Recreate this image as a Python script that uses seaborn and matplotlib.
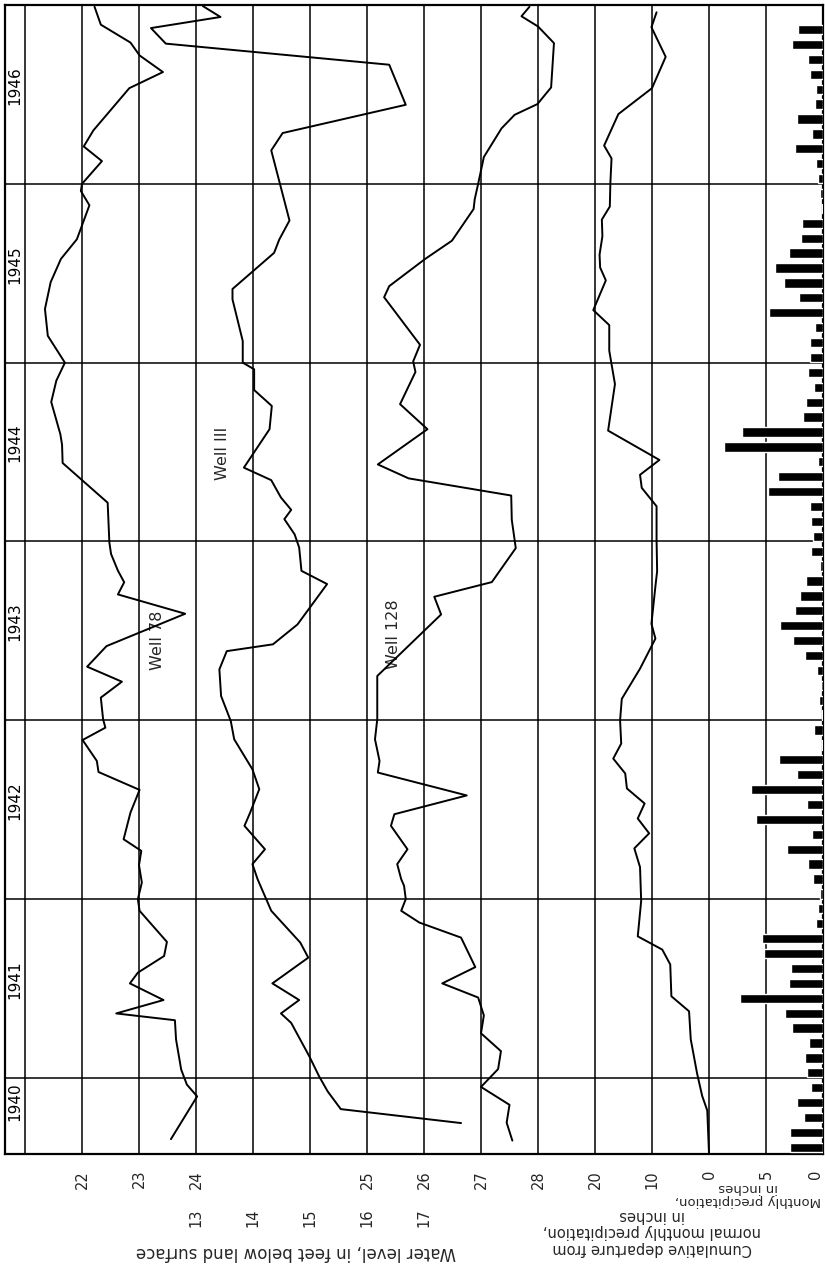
import matplotlib
matplotlib.use("Agg")
import matplotlib.pyplot as plt
import numpy as np
import pandas as pd
import seaborn as sns

sns.set_theme(style="white")
plt.rcParams["font.family"] = ["DejaVu Sans"]

# ---- data (time in decimal years) ----
w78_year = [1940.658, 1940.897, 1940.963, 1941.047, 1941.215, 1941.323, 1941.361, 1941.436,
            1941.529, 1941.589, 1941.682, 1941.761, 1941.935, 1942.000, 1942.093, 1942.190,
            1942.270, 1942.335, 1942.484, 1942.611, 1942.711, 1942.773, 1942.890, 1942.959,
            1943.006, 1943.127, 1943.216, 1943.300, 1943.415, 1943.596, 1943.704, 1943.772,
            1943.837, 1943.930, 1943.994, 1944.217, 1944.439, 1944.541, 1944.600, 1944.780,
            1944.900, 1945.000, 1945.150, 1945.300, 1945.450, 1945.580, 1945.690, 1945.880,
            1945.960, 1946.000, 1946.127, 1946.209, 1946.299, 1946.535, 1946.625, 1946.718,
            1946.790, 1946.890, 1946.990]
w78_depth = [23.56, 24.02, 23.84, 23.74, 23.65, 23.63, 22.60, 23.43,
             22.84, 22.98, 23.44, 23.49, 23.01, 22.98, 23.05, 23.00,
             23.04, 22.73, 22.85, 23.01, 22.29, 22.26, 22.01, 22.41,
             22.37, 22.33, 22.70, 22.09, 22.43, 23.81, 22.63, 22.74,
             22.63, 22.51, 22.48, 22.45, 21.66, 21.65, 21.62, 21.46,
             21.55, 21.70, 21.40, 21.35, 21.45, 21.63, 21.91, 22.13,
             21.98, 22.00, 22.35, 22.03, 22.20, 22.83, 23.42, 23.01,
             22.85, 22.33, 22.22]

w111_year = [1940.748, 1940.826, 1940.925, 1941.009, 1941.120, 1941.308, 1941.361, 1941.436,
             1941.529, 1941.673, 1941.757, 1941.935, 1942.112, 1942.196, 1942.279, 1942.410,
             1942.484, 1942.615, 1942.726, 1942.894, 1942.996, 1943.136, 1943.285, 1943.387,
             1943.425, 1943.536, 1943.762, 1943.836, 1943.966, 1944.040, 1944.125, 1944.177,
             1944.246, 1944.343, 1944.413, 1944.628, 1944.758, 1944.847, 1944.963, 1945.000,
             1945.121, 1945.354, 1945.412, 1945.614, 1945.688, 1945.795, 1946.187, 1946.284,
             1946.442, 1946.666, 1946.784, 1946.871, 1946.933, 1946.994]
w111_depth = [17.65, 15.54, 15.31, 15.16, 14.99, 14.67, 14.49, 14.81,
              14.34, 14.97, 14.83, 14.32, 14.08, 13.99, 14.21, 13.85,
              13.95, 14.11, 13.99, 13.67, 13.61, 13.44, 13.41, 13.54,
              14.35, 14.78, 15.30, 14.85, 14.81, 14.73, 14.55, 14.67,
              14.49, 14.32, 13.84, 14.29, 14.33, 14.02, 14.02, 13.82,
              13.82, 13.64, 13.64, 14.37, 14.46, 14.64, 14.32, 14.52,
              16.68, 16.39, 12.47, 12.21, 13.43, 13.12]

w128_year = [1940.650, 1940.750, 1940.850, 1940.950, 1941.050, 1941.150, 1941.250, 1941.350,
             1941.450, 1941.529, 1941.620, 1941.785, 1941.869, 1941.935, 1942.000, 1942.075,
             1942.112, 1942.196, 1942.279, 1942.410, 1942.475, 1942.580, 1942.708, 1942.773,
             1942.894, 1943.006, 1943.248, 1943.592, 1943.691, 1943.773, 1943.963, 1944.121,
             1944.257, 1944.353, 1944.431, 1944.628, 1944.768, 1944.948, 1945.007, 1945.100,
             1945.366, 1945.428, 1945.580, 1945.682, 1945.859, 1945.914, 1946.000, 1946.150,
             1946.310, 1946.386, 1946.446, 1946.539, 1946.787, 1946.880, 1946.937, 1946.990]
w128_depth = [27.55, 27.45, 27.50, 27.00, 27.30, 27.35, 27.00, 27.05,
              26.95, 26.32, 26.90, 26.65, 25.92, 25.60, 25.68, 25.65,
              25.60, 25.53, 25.71, 25.42, 25.48, 26.75, 25.19, 25.22,
              25.14, 25.18, 25.18, 26.30, 26.18, 27.19, 27.61, 27.54,
              27.53, 25.73, 25.19, 26.06, 25.58, 25.85, 25.81, 25.93,
              25.30, 25.39, 26.02, 26.49, 26.87, 26.89, 26.95, 27.05,
              27.36, 27.59, 27.99, 28.23, 28.28, 28.00, 27.71, 27.85]

cum_year = [1940.577, 1940.818, 1940.900, 1941.027, 1941.216, 1941.373, 1941.457, 1941.635,
            1941.718, 1941.792, 1941.990, 1942.179, 1942.284, 1942.368, 1942.451, 1942.535,
            1942.619, 1942.703, 1942.786, 1942.870, 1943.000, 1943.120, 1943.289, 1943.457,
            1943.540, 1943.750, 1943.834, 1944.011, 1944.197, 1944.300, 1944.373, 1944.456,
            1944.620, 1944.880, 1945.067, 1945.210, 1945.294, 1945.460, 1945.532, 1945.604,
            1945.707, 1945.800, 1945.873, 1946.007, 1946.142, 1946.214, 1946.390, 1946.535,
            1946.710, 1946.876, 1946.959]
cum_departure = [0.0, 0.3, 1.2, 2.1, 3.2, 3.5, 6.6, 6.8,
                 8.2, 12.5, 11.9, 12.1, 13.1, 10.5, 12.5, 11.3,
                 14.4, 14.7, 16.8, 15.4, 15.6, 15.3, 12.1, 9.4,
                 10.1, 9.4, 9.1, 9.2, 9.2, 11.8, 12.1, 8.7,
                 17.7, 16.5, 17.5, 17.5, 20.3, 18.1, 19.1, 19.2,
                 18.7, 18.8, 17.4, 17.3, 17.1, 18.4, 15.9, 10.0,
                 7.6, 10.1, 9.2]

# monthly precipitation, Aug 1940 - Nov 1946, inches
precip_months = pd.date_range("1940-08", "1946-11", freq="MS")
precip_in = [2.86, 2.92, 1.70, 2.32, 1.04,
             1.43, 1.55, 1.19, 2.74, 3.33, 7.30, 2.98, 2.80, 5.15, 5.35, 0.65, 0.42,
             0.30, 0.89, 1.34, 3.18, 0.95, 5.86, 1.40, 6.30, 2.32, 3.87, 0.10, 0.83,
             0.10, 0.36, 0.15, 0.54, 1.55, 2.62, 3.81, 2.44, 2.02, 1.49, 0.30, 1.04,
             0.89, 1.04, 1.13, 4.85, 3.96, 0.45, 8.69, 7.14, 1.79, 1.49, 0.83, 1.34,
             1.13, 1.13, 0.74, 4.76, 2.14, 3.39, 4.23, 2.98, 1.93, 1.85, 0.10, 0.30,
             0.45, 0.65, 2.44, 0.98, 2.32, 0.71, 0.65, 1.13, 1.34, 2.74, 2.23]

years = [1941, 1942, 1943, 1944, 1945, 1946]
year_labels = ["1940", "1941", "1942", "1943", "1944", "1945", "1946"]

# ---- layout: one grid column per unit, value of each scale at column 0 and per column ----
t_lo, t_hi = 1940.575, 1947.0
col_lo, col_hi = -0.351, 14.0
scales = {
    "w78": (21.0, 1.0),     # 22 ft on first grid line
    "w111": (10.0, 1.0),
    "w128": (19.0, 1.0),
    "cum": (120.0, -10.0),
    "precip": (70.0, -5.0),
}

fig = plt.figure(figsize=(8.25, 12.69), dpi=100)
ax = fig.add_axes([5 / 825, 115 / 1269, 818 / 825, 1149 / 1269])
ax.set_xlim(col_lo, col_hi)
ax.set_ylim(t_lo, t_hi)
ax.set_xticks([])
ax.set_yticks([])
for s in ax.spines.values():
    s.set_color("black")
    s.set_linewidth(1.6)
for k in range(14):
    ax.axvline(k, color="black", lw=1.1)
for yr in years:
    ax.axhline(yr, color="black", lw=1.1)

for i, lab in enumerate(year_labels):
    yr = 1940 + i
    ypos = yr + 0.55 if yr > 1940 else (t_lo + 1941) / 2 + 0.08
    ax.text(col_lo / 2, ypos, lab, rotation=90, ha="center", va="center",
            fontsize=11, color="black")


def twin(key, pad):
    base, per = scales[key]
    tw = ax.twiny()
    tw.set_xlim(base + per * col_lo, base + per * col_hi)
    tw.set_ylim(t_lo, t_hi)
    tw.xaxis.set_ticks_position("bottom")
    for s in tw.spines.values():
        s.set_visible(False)
    tw.tick_params(axis="x", length=0, labelsize=10.5, labelrotation=90, pad=pad)
    tw.set_xticks([])
    return tw


line_kw = dict(sort=False, estimator=None, color="black", linewidth=1.4, legend=False)

tw78 = twin("w78", 11.5)
sns.lineplot(x=w78_depth, y=w78_year, ax=tw78, **line_kw)
tw78.set_xticks([22, 23, 24], ["22", "23", "24"])

tw111 = twin("w111", 39)
sns.lineplot(x=w111_depth, y=w111_year, ax=tw111, **line_kw)
tw111.set_xticks([13, 14, 15, 16, 17], ["13", "14", "15", "16", "17"])

tw128 = twin("w128", 11.5)
sns.lineplot(x=w128_depth, y=w128_year, ax=tw128, **line_kw)
tw128.set_xticks([25, 26, 27, 28], ["25", "26", "27", "28"])

twc = twin("cum", 11.5)
sns.lineplot(x=cum_departure, y=cum_year, ax=twc, **line_kw)
twc.set_xticks([20, 10, 0], ["20", "10", "0"])

twp = twin("precip", 11.5)
precip_t = precip_months.year + (precip_months.month - 0.65) / 12
twp.barh(precip_t, precip_in, height=0.052, left=0, color="black")
twp.set_xticks([5, 0], ["5", "0"])
twp.get_xticklabels()[-1].set_horizontalalignment("right")

for tw in (tw78, tw111, tw128, twc, twp):
    tw.set_xlabel("")
    tw.set_ylabel("")
    tw.set_yticks([])

ax.text(2.33, 1943.45, "Well 78", rotation=90, ha="center", va="center", fontsize=11.5)
ax.text(3.46, 1944.49, "Well III", rotation=90, ha="center", va="center", fontsize=11.5)
ax.text(6.46, 1943.48, "Well 128", rotation=90, ha="center", va="center", fontsize=11.5)

fig.text(296 / 825, 1 - 1252 / 1269, "Water level, in feet below land surface",
         rotation=180, ha="center", va="center", fontsize=12)
fig.text(652 / 825, 1 - 1232 / 1269,
         "Cumulative departure from\nnormal monthly precipitation,\nin inches",
         rotation=180, ha="center", va="center", fontsize=10.5, linespacing=1.15,
         multialignment="center")
fig.text(748 / 825, 1 - 1194 / 1269, "Monthly precipitation,\nin inches",
         rotation=180, ha="center", va="center", fontsize=9.5, linespacing=1.05,
         multialignment="center")

fig.savefig("out.png", dpi=100, facecolor="white")
